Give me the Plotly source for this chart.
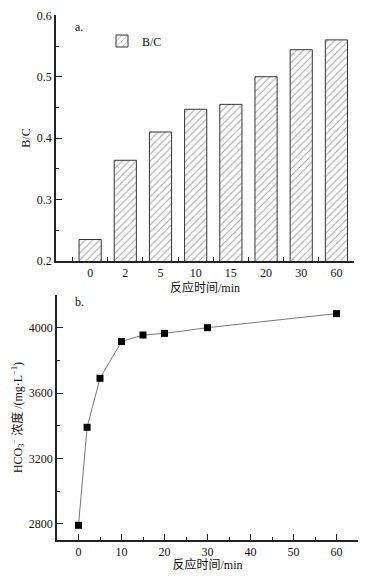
import plotly.graph_objects as go

# Panel a: B/C ratio vs reaction time (categorical)
time_cats = ["0", "2", "5", "10", "15", "20", "30", "60"]
bc_values = [0.235, 0.364, 0.41, 0.447, 0.455, 0.50, 0.544, 0.56]

# Panel b: HCO3- concentration vs reaction time
time_min = [0, 2, 5, 10, 15, 20, 30, 60]
hco3_values = [2790, 3390, 3690, 3915, 3955, 3965, 4000, 4086]

bc_ticks = [0.2, 0.3, 0.4, 0.5, 0.6]

SERIF = "Liberation Serif, Times New Roman, serif"
CJK = "Liberation Serif, Noto Sans CJK SC, serif"
AX = "#222222"

# page has an 8px body margin: figure is 359x564 placed at (8, 8)
W, H, OFF = 359, 564, 8
def px(x):
    return (x - OFF) / W
def py(y):
    return 1 - (y - OFF) / H

fig = go.Figure()

fig.add_trace(go.Bar(
    x=time_cats, y=bc_values, name="B/C", width=0.63,
    marker=dict(color="white", line=dict(color="#333333", width=1),
                pattern=dict(shape="/", fgcolor="#444444", bgcolor="white",
                             size=5, solidity=0.2)),
    xaxis="x", yaxis="y", showlegend=True,
))

fig.add_trace(go.Scatter(
    x=time_min, y=hco3_values, mode="lines+markers",
    line=dict(color="#777777", width=1),
    marker=dict(symbol="square", size=7, color="black"),
    xaxis="x2", yaxis="y2", showlegend=False,
))

common_axis = dict(showline=True, linecolor=AX, linewidth=1.5, showgrid=False,
                   zeroline=False, ticks="inside", tickcolor=AX, automargin=False,
                   tickwidth=1, tickfont=dict(family=SERIF, size=12, color="#111"),
                   mirror=False, ticklabeloverflow="allow")

fig.update_layout(
    width=W, height=H,
    margin=dict(l=0, r=0, t=0, b=0, autoexpand=False),
    paper_bgcolor="white", plot_bgcolor="white",
    xaxis=dict(**common_axis, domain=[px(56), px(354)], anchor="y",
               type="category", range=[-0.97, 7.5], tickson="boundaries",
               ticklen=4,
               title=dict(text="反应时间/min", font=dict(family=CJK, size=12, color="#111"),
                          standoff=0)),
    yaxis=dict(**common_axis, domain=[py(261), py(15)], anchor="x", ticklen=6,
               range=[0.2, 0.6005], tickmode="array", tickvals=bc_ticks,
               ticktext=[f"{v:.1f}" for v in bc_ticks],
               minor=dict(dtick=0.05, tick0=0.2, ticks="inside", ticklen=3, tickcolor=AX),
               title=dict(text="B/C", font=dict(family=SERIF, size=12, color="#111"),
                          standoff=4)),
    xaxis2=dict(**common_axis, domain=[px(57), px(358)], anchor="y2", ticklen=6,
                range=[-5, 65], dtick=10, tick0=0,
                minor=dict(dtick=5, ticks="inside", ticklen=3, tickcolor=AX),
                title=dict(text="反应时间/min", font=dict(family=CJK, size=12, color="#111"),
                           standoff=0)),
    yaxis2=dict(**common_axis, domain=[py(540), py(295)], anchor="x2", ticklen=6,
                range=[2700, 4200], dtick=400, tick0=2800,
                minor=dict(dtick=200, ticks="inside", ticklen=3, tickcolor=AX),
                title=dict(text="HCO<sub>3</sub><sup>−</sup> 浓度 /(mg·L<sup>−1</sup>)",
                           font=dict(family=CJK, size=12, color="#111"),
                           standoff=4)),
    legend=dict(x=px(102), y=py(41), xanchor="left", yanchor="middle",
                bgcolor="rgba(0,0,0,0)", font=dict(family=SERIF, size=12, color="#111")),
    annotations=[
        dict(text="a.", x=px(73), y=py(18), xref="paper", yref="paper",
             showarrow=False, font=dict(family=SERIF, size=12, color="#111")),
        dict(text="b.", x=px(73), y=py(302), xref="paper", yref="paper",
             showarrow=False, font=dict(family=SERIF, size=12, color="#111")),
    ],
)

fig.write_html("out.html")
